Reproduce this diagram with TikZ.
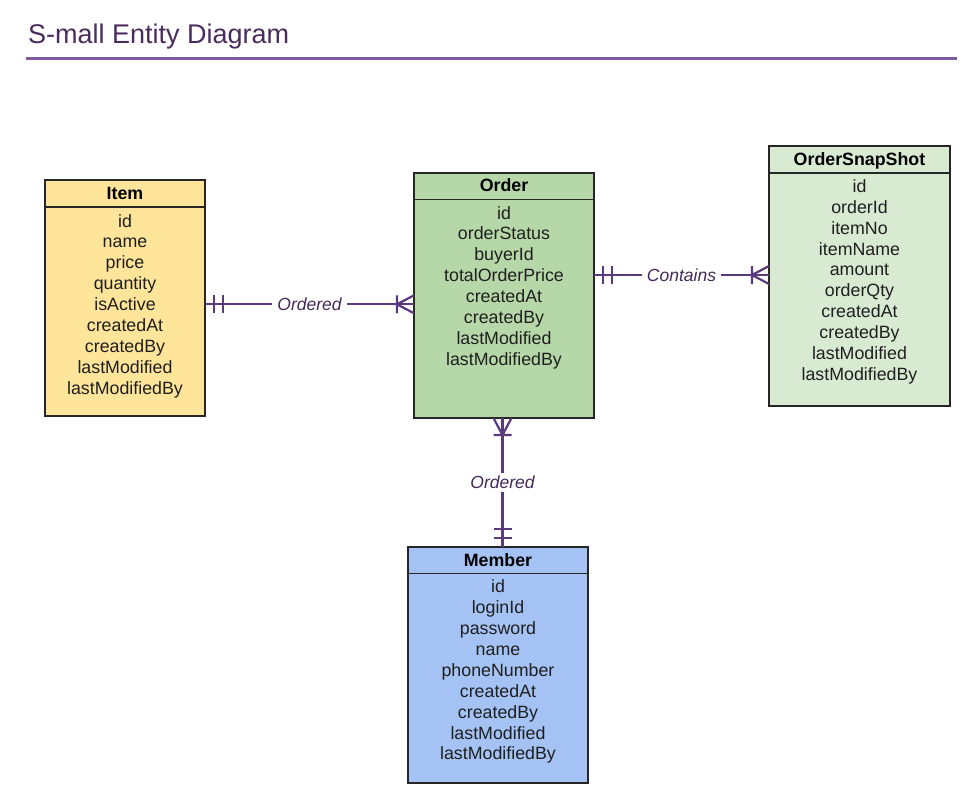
\documentclass[tikz,border=0pt]{standalone}
\usepackage{fontspec}
\setmainfont{Liberation Sans}
\usetikzlibrary{calc}
\definecolor{itemfill}{HTML}{FFE599}
\definecolor{orderfill}{HTML}{B6D7A8}
\definecolor{snapfill}{HTML}{D9EAD3}
\definecolor{memberfill}{HTML}{A4C2F4}
\definecolor{relcol}{HTML}{5A3A7D}
\definecolor{labcol}{HTML}{432A5A}
\definecolor{titlecol}{HTML}{4A2C5E}
\definecolor{ulcol}{HTML}{7D5A9C}
\definecolor{txtcol}{HTML}{1F1F1F}
\definecolor{boxcol}{HTML}{262626}
\tikzset{
  ebox/.style={draw=boxcol, line width=1.3pt, anchor=north west, inner sep=0pt, outer sep=0pt},
  eline/.style={draw=boxcol, line width=1.3pt},
  ehead/.style={anchor=base, inner sep=0pt, text=black, font=\fontsize{17.8}{21}\selectfont\bfseries},
  efield/.style={anchor=base, inner sep=0pt, text=txtcol, font=\fontsize{17.8}{21}\selectfont},
  rel/.style={draw=relcol, line width=2.2pt},
  rellabel/.style={fill=white, inner xsep=5pt, inner ysep=3pt, text=labcol, font=\fontsize{17.5}{21}\selectfont\itshape},
  mand one/.pic={\draw[rel] (9,-9)--(9,9) (18,-9)--(18,9);},
  many mark/.pic={\draw[rel] (17,-9)--(17,9) (0,-9)--(17,0)--(0,9);}
}
\begin{document}
\begin{tikzpicture}[x=1pt,y=-1pt]
\fill[white] (0,0) rectangle (977,805);
\useasboundingbox (0,0) rectangle (977,805);

% title
\node[anchor=base west, inner sep=0pt, text=titlecol, font=\fontsize{27}{32}\selectfont] (title) at (28,43.3) {S-mall Entity Diagram};
\coordinate (ul1) at (26,58.5);
\coordinate (ul2) at (957,58.5);
\draw[ulcol, line width=3.5pt] (ul1) -- (ul2);

% Item
\node[ebox, fill=itemfill, minimum width=160pt, minimum height=236pt] (item) at (45,180) {};
\draw[eline] ([yshift=-27pt]item.north west) -- ([yshift=-27pt]item.north east);
\node[ehead] (item-h) at ([yshift=-20pt]item.north) {Item};
\foreach \f [count=\i from 0] in {id,name,price,quantity,isActive,createdAt,createdBy,lastModified,lastModifiedBy}
  \node[efield] (item-f\i) at ([yshift={-(47+\i*20.9)}]item.north) {\f};

% Order
\node[ebox, fill=orderfill, minimum width=180pt, minimum height=245pt] (order) at (414,173) {};
\draw[eline] ([yshift=-26.5pt]order.north west) -- ([yshift=-26.5pt]order.north east);
\node[ehead] (order-h) at ([yshift=-19pt]order.north) {Order};
\foreach \f [count=\i from 0] in {id,orderStatus,buyerId,totalOrderPrice,createdAt,createdBy,lastModified,lastModifiedBy}
  \node[efield] (order-f\i) at ([yshift={-(46+\i*20.9)}]order.north) {\f};

% OrderSnapShot
\node[ebox, fill=snapfill, minimum width=181pt, minimum height=260pt] (snap) at (769,146) {};
\draw[eline] ([yshift=-27pt]snap.north west) -- ([yshift=-27pt]snap.north east);
\node[ehead] (snap-h) at ([yshift=-19.3pt]snap.north) {OrderSnapShot};
\foreach \f [count=\i from 0] in {id,orderId,itemNo,itemName,amount,orderQty,createdAt,createdBy,lastModified,lastModifiedBy}
  \node[efield] (snap-f\i) at ([yshift={-(46.3+\i*20.9)}]snap.north) {\f};

% Member
\node[ebox, fill=memberfill, minimum width=180pt, minimum height=236pt] (member) at (408,547) {};
\draw[eline] ([yshift=-26.5pt]member.north west) -- ([yshift=-26.5pt]member.north east);
\node[ehead] (member-h) at ([yshift=-19.5pt]member.north) {Member};
\foreach \f [count=\i from 0] in {id,loginId,password,name,phoneNumber,createdAt,createdBy,lastModified,lastModifiedBy}
  \node[efield] (member-f\i) at ([yshift={-(45.7+\i*20.9)}]member.north) {\f};

% relations
\coordinate (r1) at (0,304.3);
\coordinate (r2) at (0,275);
\coordinate (c3) at (502.5,0);

\draw[rel] (item.east |- r1) -- node[rellabel] (lab1) {Ordered} (order.west |- r1);
\pic at (item.east |- r1) {mand one};
\pic[rotate=180] at (order.west |- r1) {many mark};

\draw[rel] (order.east |- r2) -- node[rellabel] (lab2) {Contains} (snap.west |- r2);
\pic at (order.east |- r2) {mand one};
\pic[rotate=180] at (snap.west |- r2) {many mark};

\draw[rel] (order.south -| c3) -- node[rellabel] (lab3) {Ordered} (member.north -| c3);
\pic[rotate=-90] at (order.south -| c3) {many mark};
\pic[rotate=90] at (member.north -| c3) {mand one};
\end{tikzpicture}
\end{document}
